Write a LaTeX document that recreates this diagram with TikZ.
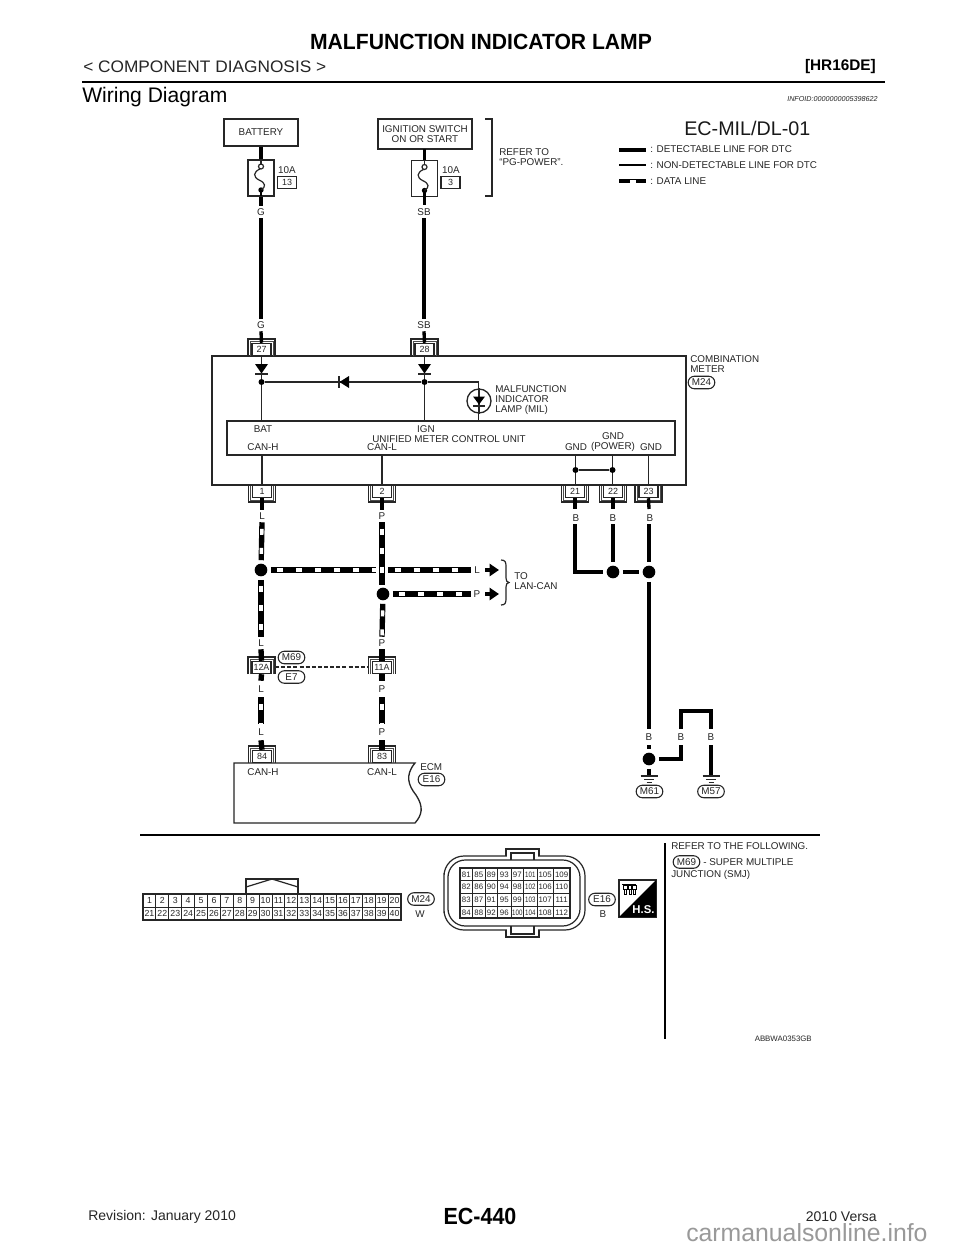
\documentclass[tikz,border=0pt]{standalone}
\usepackage{fontspec}
\setmainfont{Liberation Sans}
\usetikzlibrary{shapes.misc,arrows.meta}
\newcommand{\topconn}[4]{%
  \node[connbox] (#1) at (#2,#3-6.5) {#4};
  \draw[brk] (#2-13.5,#3) -- (#2-13.5,#3-17) -- (#2+13.5,#3-17) -- (#2+13.5,#3);
  \draw[brkin] (#2-11.5,#3) -- (#2-11.5,#3-15) -- (#2+11.5,#3-15) -- (#2+11.5,#3);
}
\newcommand{\botconn}[4]{%
  \node[connbox] (#1) at (#2,#3+6.5) {#4};
  \draw[brk] (#2-13.5,#3+1) -- (#2-13.5,#3+17) -- (#2+13.5,#3+17) -- (#2+13.5,#3+1);
  \draw[brkin] (#2-11.5,#3+1) -- (#2-11.5,#3+15) -- (#2+11.5,#3+15) -- (#2+11.5,#3+1);
}
\newcommand{\fusedraw}[2]{%
  \draw[thinw] (#1,#2) -- (#1,#2+4);
  \draw[thinw,fill=white] (#1,#2+6.5) circle (2.5);
  \fill (#1,#2+30) circle (2.7);
  \draw[thinw] (#1-1,#2+9) .. controls (#1-8,#2+12) and (#1-8,#2+17) .. (#1-2,#2+20) .. controls (#1+5,#2+23) and (#1+5,#2+27) .. (#1,#2+30);
  \draw[midw] (#1,#2+30) -- (#1,#2+36);
}
\newcommand{\diodedown}[2]{%
  \fill (#1-6.5,#2) -- (#1+6.5,#2) -- (#1,#2+9.5) -- cycle;
  \draw[thinw] (#1-6.5,#2+10) -- (#1+6.5,#2+10);
}
\newcommand{\groundsym}[2]{%
  \draw[thinw] (#1-8.5,#2) -- (#1+8.5,#2);
  \draw[thinw] (#1-5,#2+3.5) -- (#1+5,#2+3.5);
  \draw[thinw] (#1-2.5,#2+6.5) -- (#1+2.5,#2+6.5);
}
\tikzset{
  every node/.style={font=\fontsize{7.4}{7.5}\selectfont,inner sep=0,text=black!85},
  thinw/.style={line width=.9pt,black!85},
  brk/.style={line width=.8pt,black!85},
  brkin/.style={line width=.5pt,black!70},
  boxline/.style={draw=black!85,line width=1pt},
  wire/.style={line width=2.5pt,black},
  midw/.style={line width=1.7pt,black},
  dataw/.style={line width=4pt,black,postaction={draw=white,line width=2.6pt,dash pattern=on 4.5pt off 9.75pt,dash phase=-5pt}},
  wl/.style={minimum height=9pt,minimum width=9pt},
  wlb/.style={minimum height=12pt,minimum width=9pt},
  connbox/.style={draw=black!85,line width=.8pt,fill=white,minimum width=14.25pt,minimum height=9.3pt,font=\fontsize{6.7}{7}\selectfont},
  fusebox/.style={draw=black!85,line width=.9pt,minimum width=19.5pt,minimum height=27pt},
  tag/.style={draw=black!85,line width=.8pt,rounded rectangle,minimum width=20pt,minimum height=9.4pt,fill=white},
  smalldot/.style={circle,fill=black,minimum size=4.5pt},
  bigdot/.style={circle,fill=black,minimum size=9.5pt,outer sep=2.6pt},
  cell/.style={draw=black!85,line width=.75pt,minimum width=9.68pt,minimum height=9.75pt,font=\fontsize{6.6}{7}\selectfont},
  ecell/.style={draw=black!85,line width=.75pt,font=\fontsize{5.9}{6}\selectfont},
  blockarrow/.style={line width=3.2pt,-{Triangle[length=7pt,width=9pt]},black},
}
\begin{document}
\begin{tikzpicture}[x=.75pt,y=-.75pt]
\useasboundingbox (0,0) rectangle (960,1242);
\fill[white] (0,0) rectangle (960,1242);
% ---- page header
\node[font=\fontsize{16.5}{17}\bfseries\selectfont,text=black] (title) at (481,42) {\scalebox{.96}[1]{MALFUNCTION INDICATOR LAMP}};
\node[anchor=west,font=\fontsize{12.5}{13}\selectfont] (chap) at (83,67) {\scalebox{1.037}[1]{< COMPONENT DIAGNOSIS >}};
\node[anchor=east,font=\fontsize{11.5}{12}\bfseries\selectfont,text=black] (eng) at (876,67) {[HR16DE]};
\coordinate (ruleL) at (82,82); \coordinate (ruleR) at (885,82);
\draw[line width=2.1pt,black] (ruleL) -- (ruleR);
\node[anchor=west,font=\fontsize{15.8}{16}\selectfont,text=black] (sec) at (82,97) {Wiring Diagram};
\node[anchor=east,font=\fontsize{5.4}{6}\itshape\selectfont] (info) at (878,99) {INFOID:0000000005398622};
% ---- top boxes
\node[draw=black!85,line width=1pt,minimum width=55.5pt,minimum height=20.25pt] (batt) at (261,132.5) {BATTERY};
\node[draw=black!85,line width=1pt,minimum width=70.5pt,minimum height=22.5pt,align=center] (ign) at (425,134) {IGNITION SWITCH\\ON OR START};
\node[fusebox] (f13) at (261,178) {};
\node[fusebox] (f3) at (424.5,178.5) {};
\fusedraw{261}{160}
\fusedraw{424.5}{160.5}
\node (a10a) at (287,170) {10A};
\node[connbox] (n13) at (287,182.5) {13};
\node (b10a) at (451,170) {10A};
\node[connbox] (n3) at (450.5,182.5) {3};
\draw[thinw] (485,119) -- (492,119) -- (492,196) -- (485,196);
\node[anchor=west,align=left] (pg) at (499,157) {REFER TO\\“PG-POWER”.};
% ---- legend
\node[anchor=west,font=\fontsize{14.8}{15}\selectfont,text=black!90] (code) at (684,128) {EC-MIL/DL-01};
\coordinate (le1) at (619,150); \coordinate (le1b) at (646,150);
\coordinate (le2) at (619,165); \coordinate (le2b) at (646,165);
\coordinate (le3) at (619,181); \coordinate (le3b) at (646,181);
\draw[line width=3.4pt,black] (le1) -- (le1b);
\draw[line width=1.6pt,black] (le2) -- (le2b);
\draw[line width=3.4pt,black] (le3) -- (le3b);
\fill[white] (630,179.5) rectangle (636,182.5);
\node[anchor=west] (lt1) at (650,149) {: DETECTABLE LINE FOR DTC};
\node[anchor=west] (lt2) at (650,165) {: NON-DETECTABLE LINE FOR DTC};
\node[anchor=west] (lt3) at (650,181) {: DATA LINE};
% ---- wire labels upper
\node[wl] (lg1) at (261,212) {G};
\node[wl] (lg2) at (261,325) {G};
\node[wl] (ls1) at (424,212) {SB};
\node[wl] (ls2) at (424,325) {SB};
% ---- combination meter
\node[draw=black!85,line width=1.1pt,minimum width=355.5pt,minimum height=96.75pt] (meter) at (449,420.5) {};
\node[draw=black!85,line width=1.1pt,minimum width=336pt,minimum height=25.5pt] (umcu) at (451,438) {};
\topconn{c27}{261.5}{356}{27}
\topconn{c28}{424.5}{356}{28}
\botconn{c1}{262}{485}{1}
\botconn{c2}{382}{485}{2}
\botconn{c21}{575}{485}{21}
\botconn{c22}{613}{485}{22}
\botconn{c23}{648.5}{485}{23}
\draw[wire] (batt.south) -- (f13.north);
\draw[wire] (f13.south) -- (lg1.north);
\draw[wire] (lg1.south) -- (lg2.north);
\draw[wire] (lg2.south) -- (c27.north);
\draw[wire] (424.5,149) -- (f3.north);
\draw[wire] (f3.south) -- (424.5,205);
\draw[wire] (ls1.south) -- (ls2.north);
\draw[wire] (ls2.south) -- (c28.north);
\node[smalldot] (j27) at (261.5,382) {};
\node[smalldot] (j28) at (424.5,382) {};
\coordinate (lampTop) at (478.5,382);
\draw[thinw] (c27.south) -- (j27);
\draw[thinw] (c28.south) -- (j28);
\draw[thinw] (j27) -- (j28) -- (lampTop) -- (478.5,421);
\draw[thinw] (j27) -- (261.5,421);
\draw[thinw] (j28) -- (424.5,421);
\diodedown{261.5}{364}
\diodedown{424.5}{364}
\fill (349,376) -- (349,388) -- (339.5,382) -- cycle;
\draw[thinw] (339,376) -- (339,388);
\node[circle,draw=black!85,line width=1pt,fill=white,minimum size=18pt] (lamp) at (479,401) {};
\draw[thinw] (lamp.north) -- (lamp.south);
\fill (473,396.5) -- (485,396.5) -- (479,404.5) -- cycle;
\draw[thinw] (473,406) -- (485,406);
\node[anchor=west,align=left] (miltxt) at (495,400) {MALFUNCTION\\INDICATOR\\LAMP (MIL)};
\node[anchor=west,align=left] (cm) at (690,364.5) {COMBINATION\\METER};
\node[tag] (m24a) at (701.5,382.5) {M24};
\node (bat) at (263,429) {BAT};
\node (ignt) at (426,429) {IGN};
\node (umc) at (449,439) {UNIFIED METER CONTROL UNIT};
\node (canh1) at (263,447) {CAN-H};
\node (canl1) at (382,447) {CAN-L};
\node (gnd1) at (576,447) {GND};
\node[align=center] (gnd2) at (613,442) {GND\\(POWER)};
\node (gnd3) at (651,447) {GND};
\coordinate (uh) at (262,455); \coordinate (ul) at (382,455);
\coordinate (u21) at (575.5,455); \coordinate (u22) at (612.5,455); \coordinate (u23) at (648.5,455);
\draw[thinw] (uh) -- (c1.north);
\draw[thinw] (ul) -- (c2.north);
\draw[thinw] (u23) -- (c23.north);
\node[smalldot] (j21) at (575.5,470) {};
\node[smalldot] (j22) at (612.5,470) {};
\draw[thinw] (u21) -- (j21) -- (575.5,486);
\draw[thinw] (u22) -- (j22) -- (612.5,486);
\draw[thinw] (j21) -- (j22);
% ---- ground wires
\node[wl] (lb21) at (576,518) {B};
\node[wl] (lb22) at (613,518) {B};
\node[wl] (lb23) at (650,518) {B};
\draw[wire] (c21.south) -- (575,509);
\draw[wire] (c22.south) -- (613,509);
\draw[wire] (c23.south) -- (649,509);
\node[bigdot] (jg2) at (613,572) {};
\node[bigdot] (jg3) at (649,572) {};
\coordinate (lb21s) at (575,524);
\coordinate (lb22s) at (613,524);
\coordinate (lb23s) at (649,524);
\draw[wire] (lb21s) |- (jg2);
\draw[wire] (lb22s) -- (jg2);
\draw[wire] (lb23s) -- (jg3);
\draw[wire] (jg2) -- (jg3);
\node[wlb] (lbm61) at (649,737) {B};
\node[wlb] (lba) at (681,737) {B};
\node[wlb] (lbb) at (711,737) {B};
\node[bigdot] (jm61) at (649,759) {};
\draw[wire] (jg3) -- (lbm61.north);
\draw[wire] (lbm61.south) -- (jm61);
\draw[wire] (jm61) -| (lba.south);
\draw[wire] (lba.north) |- (695,711) -| (lbb.north);
\coordinate (g61) at (649,776);
\coordinate (g57) at (711,776);
\draw[wire] (jm61) -- (g61);
\draw[wire] (lbb.south) -- (g57);
\groundsym{649}{776}
\groundsym{711}{776}
\node[tag] (m61) at (649.5,791.5) {M61};
\node[tag] (m57) at (711,791.5) {M57};
% ---- CAN lines
\node[wl] (ll1) at (262,516) {L};
\node[wl] (lp1) at (382,516) {P};
\draw[wire,line width=3.4pt] (c1.south) -- (ll1.north);
\draw[wire,line width=3.4pt] (c2.south) -- (lp1.north);
\node[bigdot] (jh) at (261,570) {};
\node[bigdot] (jl) at (383,594) {};
\node[wl] (ll2) at (261,643) {L};
\node[wl] (lp2) at (382,643) {P};
\coordinate (crossL) at (376,570); \coordinate (crossR) at (388,570);
\coordinate (vlEnd) at (382,585);
\node[wl] (lcl) at (477,570) {L};
\node[wl] (lcp) at (477,594) {P};
\coordinate (arrL) at (499,570); \coordinate (arrP) at (499,594);
\draw[dataw] (ll1.south) -- (jh);
\draw[dataw] (jh) -- (ll2.north);
\draw[dataw] (lp1.south) -- (vlEnd);
\draw[dataw] (jl) -- (lp2.north);
\draw[dataw] (jh) -- (crossL);
\draw[dataw] (crossR) -- (lcl.west);
\draw[dataw] (jl) -- (lcp.west);
\coordinate (al0) at (485,570); \coordinate (ap0) at (485,594);
\draw[blockarrow] (al0) -- (arrL);
\draw[blockarrow] (ap0) -- (arrP);
\draw[thinw] (501,560) .. controls (505,560) and (506,562) .. (506,566) -- (506,578) .. controls (506,581) and (507,582) .. (509,582.5) .. controls (507,583) and (506,584) .. (506,587) -- (506,599) .. controls (506,603) and (505,605) .. (501,605);
\node[anchor=west,align=left] (lan) at (514,581) {TO\\LAN-CAN};
% ---- joint connector
\topconn{c12a}{261.5}{674}{12A}
\topconn{c11a}{382}{674}{11A}
\node[tag] (m69a) at (291.5,657.5) {M69};
\node[tag] (e7) at (291.5,677) {E7};
\coordinate (dL) at (275,667); \coordinate (dR) at (368.5,667);
\draw[line width=.9pt,black!85,dash pattern=on 3pt off 1.6pt] (dL) -- (dR);
\draw[wire,line width=4pt] (ll2.south) -- (c12a.north);
\draw[wire,line width=4pt] (lp2.south) -- (c11a.north);
\node[wlb] (ll3) at (261,689) {L};
\node[wlb] (lp3) at (382,689) {P};
\node[wlb] (ll4) at (261,732) {L};
\node[wlb] (lp4) at (382,732) {P};
\draw[wire,line width=4pt] (c12a.south) -- (ll3.north);
\draw[wire,line width=4pt] (c11a.south) -- (lp3.north);
\draw[dataw] (ll3.south) -- (ll4.north);
\draw[dataw] (lp3.south) -- (lp4.north);
% ---- ECM
\draw[boxline] (234,763) -- (415,763) .. controls (405,775) and (408,785) .. (416,795) .. controls (424,807) and (422,815) .. (415,823) -- (234,823) -- cycle;
\topconn{c84}{262}{763}{84}
\topconn{c83}{382}{763}{83}
\draw[wire,line width=4pt] (ll4.south) -- (c84.north);
\draw[wire,line width=4pt] (lp4.south) -- (c83.north);
\node (canh2) at (263,772) {CAN-H};
\node (canl2) at (382,772) {CAN-L};
\node[anchor=west] (ecm) at (420,767) {ECM};
\node[tag] (e16a) at (431.5,779.5) {E16};
% ---- bottom panel
\coordinate (sepL) at (140,835); \coordinate (sepR) at (820,835);
\draw[line width=1.3pt,black] (sepL) -- (sepR);
\coordinate (vtop) at (665,843); \coordinate (vbot) at (665,1039);
\draw[line width=1.3pt,black] (vtop) -- (vbot);
\node[anchor=west] (ref1) at (671,846) {REFER TO THE FOLLOWING.};
\node[tag] (m69b) at (686.5,862) {M69};
\node[anchor=west] (ref2) at (703,862) {- SUPER MULTIPLE};
\node[anchor=west] (ref3) at (671,875) {JUNCTION (SMJ)};
\node[anchor=east,font=\fontsize{5.9}{6}\selectfont] (abb) at (812,1039) {ABBWA0353GB};
% M24 connector
\draw[thinw] (246,894) -- (246,879) -- (298,879) -- (298,894);
\draw[thinw] (246,887) -- (272,879) -- (298,887);
\foreach \i in {1,...,20}{
  \pgfmathtruncatemacro{\nb}{\i+20}
  \node[cell] (ma\i) at (143+12.9*\i-6.45,900.5) {\i};
  \node[cell] (mb\nb) at (143+12.9*\i-6.45,913.5) {\nb};
}
\draw[line width=1.1pt,black!85] (143,894) rectangle (401,920);
\node[tag] (m24b) at (421,899) {M24};
\node (wcol) at (420,914) {W};
% E16 connector
\draw[thinw,rounded corners=15] (444,893) -- (444,856) -- (585,856) -- (585,930) -- (444,930) -- cycle;
\draw[thinw,rounded corners=13] (448,893) -- (448,860) -- (580,860) -- (580,926) -- (448,926) -- cycle;
\fill[white] (507,855) rectangle (538,859);
\fill[white] (507,927) rectangle (538,931);
\draw[thinw] (506,856) -- (506,849) -- (539,849) -- (539,856);
\draw[thinw] (511,860) -- (511,853) -- (534,853) -- (534,860);
\draw[thinw] (506,930) -- (506,937) -- (539,937) -- (539,930);
\draw[thinw] (511,926) -- (511,934) -- (534,934) -- (534,926);
\foreach \xa/\xb/\nr in {460/472.7/81,472.7/485/85,485/497.7/89,497.7/511/93,511/523.7/97,523.7/537/101,537/553.3/105,553.3/570/109}{
  \foreach \r in {0,1,2,3}{
    \pgfmathtruncatemacro{\val}{\nr+\r}
    \node[ecell,minimum width={(\xb-\xa)*.75pt},minimum height=9.5pt] (e\val) at ({(\xa+\xb)/2},{868+12.67*\r+6.33}) {\ifnum\val>104 \val\else\ifnum\val>99 \scalebox{.78}[1]{\val}\else\val\fi\fi};
  }
}
\draw[line width=1.1pt,black!85] (460,868) rectangle (570,918);
\node[tag] (e16b) at (602,899.5) {E16};
\node (bcol) at (603,914) {B};
% H.S. mark
\draw[thinw] (619,880) rectangle (656,917);
\fill[black] (656,880) -- (656,917) -- (619,917) -- cycle;
\node[font=\fontsize{8.5}{9}\bfseries\selectfont,text=white] (hs) at (643.5,910) {H.S.};
\foreach \ix in {623.5,628,632.5}{\draw[line width=.6pt] (\ix,885) rectangle ++(3.5,4);\draw[line width=.6pt] (\ix+1,889) rectangle ++(2,5);}
\draw[line width=.6pt] (622,884) -- (636,884);
% ---- footer
\node[anchor=west,font=\fontsize{10.5}{11}\selectfont,text=black!85] (rev) at (88,1217) {Revision: January 2010};
\node[font=\fontsize{17.5}{18}\bfseries\selectfont,text=black] (page) at (480,1216) {\scalebox{.92}[1]{EC-440}};
\begin{scope}
\clip (0,0) rectangle (960,1242);
\node[anchor=base west,font=\fontsize{18.6}{19}\selectfont,text=black!40] (wm) at (686,1241) {carmanualsonline.info};
\end{scope}
\node[anchor=east,font=\fontsize{10.5}{11}\selectfont,text=black!85] (ver) at (877,1217) {2010 Versa};
\end{tikzpicture}
\end{document}
